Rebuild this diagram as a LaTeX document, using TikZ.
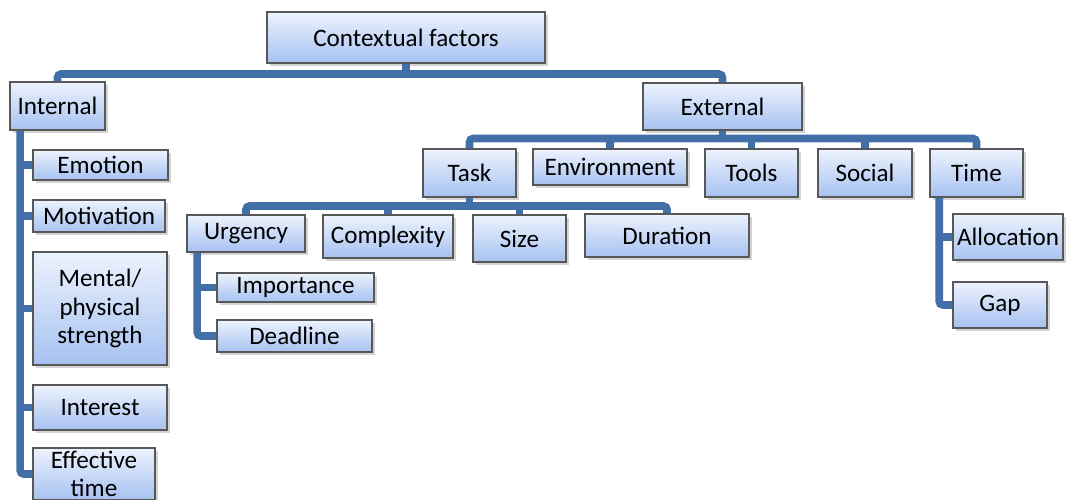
\documentclass[tikz,border=0pt]{standalone}
\usepackage{fontspec}
\setmainfont{Carlito}
\usepackage{tikz}
\usetikzlibrary{shadows}
\definecolor{linkblue}{RGB}{66,111,168}
\definecolor{boxtop}{RGB}{237,243,253}
\definecolor{boxbottom}{RGB}{166,193,241}
\definecolor{boxline}{RGB}{88,88,88}
\tikzset{
    factor/.style={rectangle, draw=boxline, line width=0.9pt, top color=boxtop, bottom color=boxbottom, inner sep=1.5pt, text centered, align=center, font=\fontsize{14.3}{16}\selectfont, drop shadow={shadow xshift=1.6pt, shadow yshift=-1.6pt, opacity=0.35}},
    link/.style={draw=linkblue, line width=4.3pt, rounded corners=2pt}
}

\begin{document}
\begin{tikzpicture}
    \useasboundingbox (0,0) rectangle (21.34,-10);

    % Root
    \node[factor, minimum width=5.56cm, minimum height=1.02cm] (ctx) at (8.12,-0.75) {Contextual factors};

    % Internal branch
    \node[factor, minimum width=1.9cm, minimum height=0.96cm] (internal) at (1.15,-2.12) {Internal};
    \node[factor, minimum width=2.7cm, minimum height=0.6cm] (emotion) at (2.01,-3.3) {Emotion};
    \node[factor, minimum width=2.64cm, minimum height=0.64cm] (motivation) at (1.98,-4.32) {Motivation};
    \node[factor, minimum width=2.68cm, minimum height=2.26cm] (mental) at (2.0,-6.17) {Mental/\\ physical\\ strength};
    \node[factor, minimum width=2.68cm, minimum height=0.9cm] (interest) at (2.0,-8.15) {Interest};
    \node[factor, minimum width=2.44cm, minimum height=1.04cm] (efftime) at (1.88,-9.48) {Effective\\ time};

    % External branch
    \node[factor, minimum width=3.18cm, minimum height=0.94cm] (external) at (14.45,-2.13) {External};
    \node[factor, minimum width=1.86cm, minimum height=0.96cm] (task) at (9.39,-3.46) {Task};
    \node[factor, minimum width=3.08cm, minimum height=0.72cm] (environment) at (12.2,-3.34) {Environment};
    \node[factor, minimum width=1.86cm, minimum height=0.96cm] (tools) at (15.03,-3.46) {Tools};
    \node[factor, minimum width=1.88cm, minimum height=0.96cm] (social) at (17.3,-3.46) {Social};
    \node[factor, minimum width=1.86cm, minimum height=0.96cm] (time) at (19.53,-3.46) {Time};

    % Task branch
    \node[factor, minimum width=2.36cm, minimum height=0.74cm] (urgency) at (4.92,-4.67) {Urgency};
    \node[factor, minimum width=2.6cm, minimum height=0.86cm] (complexity) at (7.76,-4.73) {Complexity};
    \node[factor, minimum width=1.86cm, minimum height=0.94cm] (size) at (10.39,-4.77) {Size};
    \node[factor, minimum width=3.28cm, minimum height=0.86cm] (duration) at (13.34,-4.71) {Duration};
    \node[factor, minimum width=3.14cm, minimum height=0.58cm] (importance) at (5.91,-5.75) {Importance};
    \node[factor, minimum width=3.1cm, minimum height=0.64cm] (deadline) at (5.89,-6.72) {Deadline};

    % Time branch
    \node[factor, minimum width=2.2cm, minimum height=0.92cm] (allocation) at (20.16,-4.74) {Allocation};
    \node[factor, minimum width=1.88cm, minimum height=0.92cm] (gap) at (20.0,-6.1) {Gap};

    % Bars and trunks
    \coordinate (topbar) at (8.12,-1.48);
    \coordinate (extbar) at (14.45,-2.77);
    \coordinate (taskbar) at (9.39,-4.12);
    \coordinate (itrunk) at ([xshift=0.22cm]internal.south west);
    \coordinate (utrunk) at ([xshift=0.22cm]urgency.south west);
    \coordinate (ttrunk) at ([xshift=0.2cm]time.south west);

    % Connections
    \draw[link] (internal.north) |- (topbar) -| (external.north);
    \draw[link] (ctx.south) -- (topbar);

    \draw[link] (task.north) |- (extbar) -| (time.north);
    \draw[link] (external.south) -- (extbar);
    \draw[link] (environment.north) -- (environment.north |- extbar);
    \draw[link] (tools.north) -- (tools.north |- extbar);
    \draw[link] (social.north) -- (social.north |- extbar);

    \draw[link] (urgency.north) |- (taskbar) -| (duration.north);
    \draw[link] (task.south) -- (taskbar);
    \draw[link] (complexity.north) -- (complexity.north |- taskbar);
    \draw[link] (size.north) -- (size.north |- taskbar);

    % Side trunks
    \draw[link] (itrunk) |- (efftime.west);
    \draw[link] (itrunk |- emotion.west) -- (emotion.west);
    \draw[link] (itrunk |- motivation.west) -- (motivation.west);
    \draw[link] (itrunk |- mental.west) -- (mental.west);
    \draw[link] (itrunk |- interest.west) -- (interest.west);

    \draw[link] (utrunk) |- (deadline.west);
    \draw[link] (utrunk |- importance.west) -- (importance.west);

    \draw[link] (ttrunk) |- (gap.west);
    \draw[link] (ttrunk |- allocation.west) -- (allocation.west);
\end{tikzpicture}
\end{document}
